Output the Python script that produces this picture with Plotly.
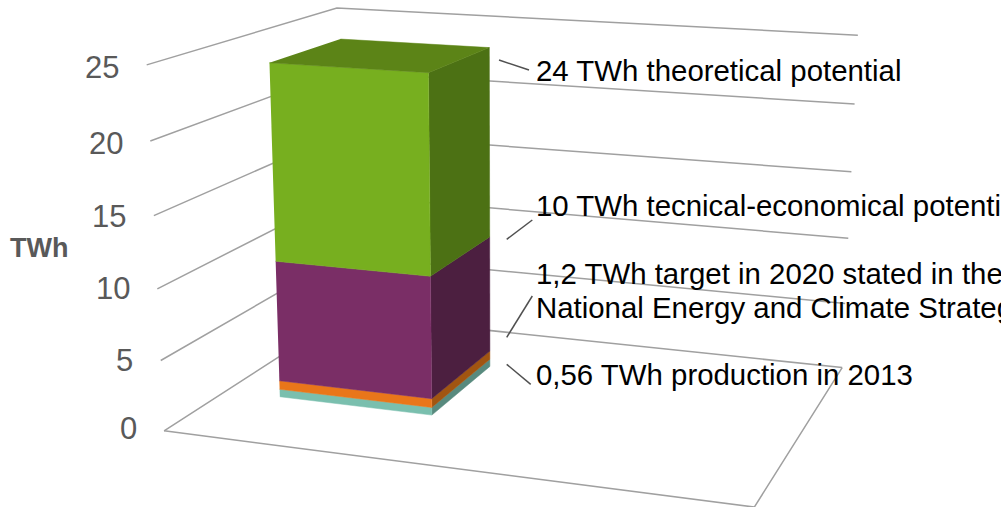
import numpy as np
import plotly.graph_objects as go

# Value axis and the cumulative stack tops of the single column (TWh)
levels = [0, 5, 10, 15, 20, 25]
level_labels = ["0", "5", "10", "15", "20", "25"]
level_label_y = [428, 360, 288, 216, 143, 67]
stack_tops = [0.56, 1.2, 10, 24]
front_colors = ["#7ABFAE", "#E9761A", "#7A2E66", "#77AF1F"]
side_colors = ["#588A7E", "#A15511", "#4C1F40", "#4C7114"]
top_color = "#5C8417"
grid_color = "#A0A0A0"
leader_color = "#505050"

callouts = [
    "24 TWh theoretical potential",
    "10 TWh tecnical-economical potential",
    "1,2 TWh target in 2020 stated in the",
    "National Energy and Climate Strategy",
    "0,56 TWh production in 2013",
]
callout_y = [70.5, 205.5, 273.5, 307.5, 374.5]
leaders = [(499, 60, 529, 70), (506.7, 239.3, 532.3, 220),
           (506.7, 337.3, 532.3, 296), (506.7, 364.3, 530.7, 384.3)]

# Perspective camera of the 3D box: (across, depth, value / axis max, 1) -> page position
CAMERA = np.array([
    [518.20366228, 248.56619303, -24.55191567, 164.07976308],
    [27.85443571, -52.41880898, -369.101246, 430.82275053],
    [-0.09549283, 0.20078246, -0.04880796, 1.0],
])
AXIS_MAX = levels[-1]
X0, X1 = 0.10324, 0.38912   # column footprint across the floor
Z0, Z1 = 0.30945, 0.70563   # column footprint along the depth
PAGE_W, PAGE_H = 1001, 507


def project(x, z, v):
    h = CAMERA @ np.array([x, z, v / AXIS_MAX, 1.0])
    return h[0] / h[2], h[1] / h[2]


fig = go.Figure()


def polyline(points, color=grid_color, width=1.5):
    xy = [project(*p) for p in points]
    fig.add_trace(go.Scatter(x=[a for a, _ in xy], y=[b for _, b in xy], mode="lines",
                             line=dict(color=color, width=width),
                             hoverinfo="skip", showlegend=False))


def face(points, color):
    xy = [project(*p) for p in points]
    fig.add_trace(go.Scatter(x=[a for a, _ in xy], y=[b for _, b in xy], mode="lines",
                             fill="toself", fillcolor=color,
                             line=dict(color=color, width=0.5),
                             hoverinfo="skip", showlegend=False))


# Gridlines on the two walls and the open edges of the floor
for v in levels:
    polyline([(0, 0, v), (0, 1, v), (1, 1, v)])
polyline([(0, 0, 0), (1, 0, 0), (1, 1, 0)])

# Stacked column: side and front face per segment, then the lid
low = 0
for top, front, side in zip(stack_tops, front_colors, side_colors):
    face([(X1, Z0, low), (X1, Z1, low), (X1, Z1, top), (X1, Z0, top)], side)
    face([(X0, Z0, low), (X1, Z0, low), (X1, Z0, top), (X0, Z0, top)], front)
    low = top
face([(X0, Z0, low), (X1, Z0, low), (X1, Z1, low), (X0, Z1, low)], top_color)

annotations = []
for v, label, y in zip(levels, level_labels, level_label_y):
    a, _ = project(0, 0, v)
    annotations.append(dict(x=a - 25.5, y=y, text=label, xref="x", yref="y",
                            xanchor="right", yanchor="middle", showarrow=False,
                            font=dict(family="Liberation Sans", size=31, color="#595959")))
annotations.append(dict(x=7.5, y=248, text="<b>TWh</b>", xref="x", yref="y",
                        xanchor="left", yanchor="middle", showarrow=False,
                        font=dict(family="Liberation Sans", size=27, color="#595959")))
for text, y in zip(callouts, callout_y):
    annotations.append(dict(x=534, y=y, text=text, xref="x", yref="y",
                            xanchor="left", yanchor="middle", showarrow=False,
                            font=dict(family="Liberation Sans", size=29.4, color="#000000")))

shapes = [dict(type="line", x0=a, y0=b, x1=c, y1=d, xref="x", yref="y",
               line=dict(color=leader_color, width=1.5)) for a, b, c, d in leaders]

fig.update_layout(width=PAGE_W, height=PAGE_H, margin=dict(l=0, r=0, t=0, b=0),
                  paper_bgcolor="white", plot_bgcolor="white",
                  annotations=annotations, shapes=shapes, showlegend=False,
                  xaxis=dict(range=[0, PAGE_W], visible=False, fixedrange=True),
                  yaxis=dict(range=[PAGE_H, 0], visible=False, fixedrange=True))
fig.write_html("out.html")
